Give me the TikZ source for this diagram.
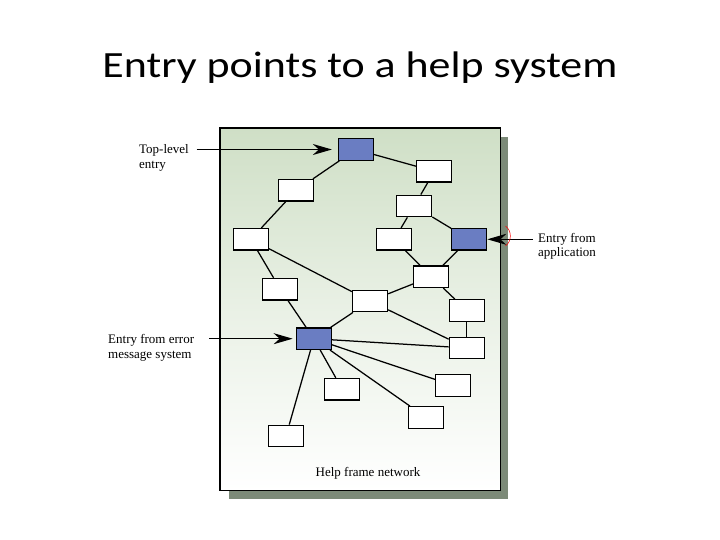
\documentclass[tikz,border=0pt]{standalone}
\usepackage{fontspec}
\setmainfont{Liberation Serif}
\newfontfamily\titlefont{Carlito}
\usetikzlibrary{arrows.meta}
\definecolor{boxblue}{HTML}{6A7DC2}
\definecolor{shadowgray}{HTML}{7C8A78}
\definecolor{framegreen}{HTML}{CFDFC6}
\tikzset{
  frame/.style={draw=black, line width=1.3pt, inner sep=0pt, minimum width=35pt, minimum height=21.5pt, fill=white},
  entrybox/.style={frame, fill=boxblue},
  link/.style={line width=1.25pt},
  entryarrow/.style={line width=1.3pt, -{Stealth[length=19pt,width=11pt,inset=6pt]}},
  lbl/.style={font=\fontsize{13}{14.5}\selectfont, align=left, inner sep=0pt, anchor=north west}
}
\begin{document}
\begin{tikzpicture}[x=1pt,y=-1pt]
\useasboundingbox (0,0) rectangle (720,540);
% title
\node[font=\titlefont\fontsize{37}{40}\selectfont, anchor=base, inner sep=0pt] (title) at (360,77.7) {\scalebox{1.187}[1]{Entry points to a help system}};
% shadow and frame
\fill[shadowgray] (229,137) rectangle (508,499);
\shade[top color=framegreen, bottom color=white, middle color=framegreen!45] (220,128) rectangle (500.7,490.7);
\draw[line width=1.3pt] (220,128) rectangle (500.7,490.7);
\node[font=\fontsize{13}{14.5}\selectfont, anchor=base, inner sep=0pt] (cap) at (368,476) {Help frame network};
% boxes
\node[entrybox] (A) at (356,149.5) {};
\node[frame] (B) at (434.3,171.3) {};
\node[frame] (C) at (296.3,190.2) {};
\node[frame] (D) at (414.2,206) {};
\node[frame] (E) at (250.8,239.3) {};
\node[frame] (F) at (394.2,239.3) {};
\node[entrybox] (G) at (469.2,239.3) {};
\node[frame] (H) at (431.3,276.7) {};
\node[frame] (I) at (280.3,289.2) {};
\node[frame] (J) at (370,301) {};
\node[frame] (K) at (466.8,310.5) {};
\node[entrybox] (L) at (313.8,338.7) {};
\node[frame] (M) at (466.8,348) {};
\node[frame] (N) at (453.2,385.5) {};
\node[frame] (O) at (342.2,389.2) {};
\node[frame] (P) at (426.2,417.5) {};
\node[frame] (Q) at (286,436) {};
% links
\draw[link] (A) -- (B);
\draw[link] (A) -- (C);
\draw[link] (C) -- (E);
\draw[link] (B) -- (D);
\draw[link] (D) -- (F);
\draw[link] (D) -- (G);
\draw[link] (F) -- (H);
\draw[link] (G) -- (H);
\draw[link] (E) -- (I);
\draw[link] (E) -- (J);
\draw[link] (I) -- (L);
\draw[link] (J) -- (L);
\draw[link] (J) -- (H);
\draw[link] (H) -- (K);
\draw[link] (K) -- (M);
\draw[link] (J) -- (M);
\draw[link] (L) -- (M);
\draw[link] (L) -- (N);
\draw[link] (L) -- (P);
\draw[link] (L) -- (O);
\draw[link] (L) -- (Q);
% entry labels and arrows
\node[lbl] (t1) at (139,144.4) {Top-level\\entry};
\node[lbl] (t2) at (108,334.4) {Entry from error\\message system};
\node[lbl] (t3) at (538,232.8) {Entry from\\application};
\coordinate (s1) at (196.7,149.5);
\coordinate (s2) at (209,338.7);
\coordinate (s3) at (532.7,239.3);
\draw[entryarrow, shorten >=6pt] (s1) -- (A.west);
\draw[entryarrow, shorten >=3pt] (s2) -- (L.west);
\draw[entryarrow] (s3) -- (G.east);
\draw[red, line width=0.5pt] (505.5,226) .. controls (512,231) and (512,241) .. (505.5,246);
\end{tikzpicture}
\end{document}
